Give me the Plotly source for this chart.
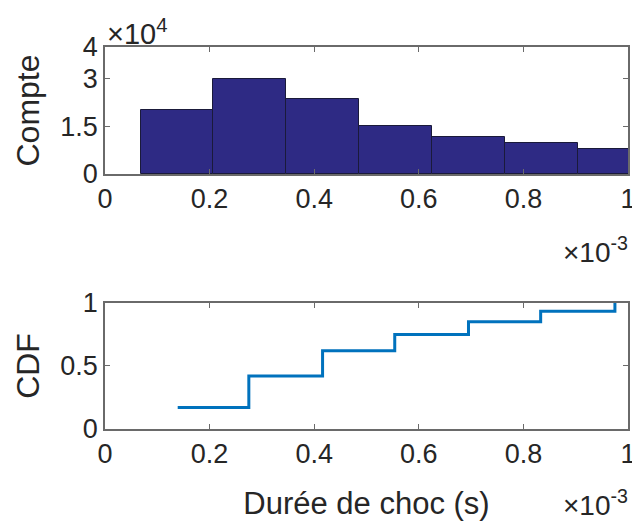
import plotly.graph_objects as go
from plotly.subplots import make_subplots

# ---- data (durations in seconds) ----
bin_edges = [0.068e-3, 0.207e-3, 0.347e-3, 0.486e-3, 0.626e-3, 0.765e-3, 0.905e-3, 1.044e-3]
counts = [20300, 29800, 23700, 15000, 11600, 9700, 7800]

cdf_x = [0.139e-3, 0.275e-3, 0.416e-3, 0.554e-3, 0.695e-3, 0.833e-3, 0.975e-3]
cdf_y = [0.17, 0.42, 0.62, 0.75, 0.85, 0.934, 1.0]

x_ticks = [0, 0.2e-3, 0.4e-3, 0.6e-3, 0.8e-3, 1.0e-3]
x_ticktext = ["0", "0.2", "0.4", "0.6", "0.8", "1"]
y1_ticks = [0, 15000, 30000, 40000]
y1_ticktext = ["0", "1.5", "3", "4"]
y2_ticks = [0, 0.5, 1]
y2_ticktext = ["0", "0.5", "1"]

centers = [(a + b) / 2 for a, b in zip(bin_edges[:-1], bin_edges[1:])]
widths = [b - a for a, b in zip(bin_edges[:-1], bin_edges[1:])]

FONT = "Liberation Sans, Arial, Helvetica, sans-serif"
TXT = "#262626"
AX = "#6a6a6a"

fig = make_subplots(rows=2, cols=1)

fig.add_trace(go.Bar(x=centers, y=counts, width=widths,
                     marker=dict(color="#2e2a84", line=dict(color="#1a1a3a", width=1)),
                     showlegend=False), row=1, col=1)
fig.add_trace(go.Scatter(x=cdf_x, y=cdf_y, mode="lines", line=dict(color="#0072BD", width=3, shape="hv"),
                         showlegend=False), row=2, col=1)

axis_common = dict(showgrid=False, zeroline=False, showline=True, linecolor=AX, linewidth=1.5,
                   mirror="ticks", ticks="inside", ticklen=5, tickcolor=AX, tickwidth=1,
                   automargin=False, ticklabeloverflow="allow",
                   tickfont=dict(family=FONT, size=27, color=TXT))

fig.update_xaxes(**axis_common, range=[0, 1.0e-3], tickvals=x_ticks, ticktext=x_ticktext)
fig.update_yaxes(**axis_common)
fig.update_yaxes(range=[0, 40000], tickvals=y1_ticks, ticktext=y1_ticktext, domain=[0.6675, 1.0],
                 title=dict(text="Compte", font=dict(family=FONT, size=32, color=TXT), standoff=11), row=1, col=1)
fig.update_yaxes(range=[0, 1], tickvals=y2_ticks, ticktext=y2_ticktext, domain=[0.0, 0.33],
                 title=dict(text="CDF", font=dict(family=FONT, size=32, color=TXT), standoff=11), row=2, col=1)
fig.update_xaxes(title=dict(text="Durée de choc (s)", font=dict(family=FONT, size=31, color=TXT), standoff=24),
                 row=2, col=1)

fig.update_layout(
    width=632, height=524, margin=dict(l=105, r=4, t=47, b=95, autoexpand=False),
    plot_bgcolor="white", paper_bgcolor="white", bargap=0,
    font=dict(family=FONT, color=TXT),
    annotations=[
        dict(text="×10<sup>4</sup>", xref="paper", yref="paper", x=0.0, y=1.0, xanchor="left", yanchor="bottom",
             xshift=0, yshift=-5, showarrow=False, font=dict(family=FONT, size=29, color=TXT)),
        dict(text="×10<sup>-3</sup>", xref="paper", yref="paper", x=1.0, y=0.6675, xanchor="right", yanchor="top",
             yshift=-56, xshift=2, showarrow=False, font=dict(family=FONT, size=28, color=TXT)),
        dict(text="×10<sup>-3</sup>", xref="paper", yref="paper", x=1.0, y=0.0, xanchor="right", yanchor="top",
             yshift=-54, xshift=2, showarrow=False, font=dict(family=FONT, size=28, color=TXT)),
    ],
)

# remove the browser's default 8 px page margin so the figure fills the window exactly
fig.write_html("out.html", config={"displayModeBar": False},
               post_script="document.body.style.margin='0';")
